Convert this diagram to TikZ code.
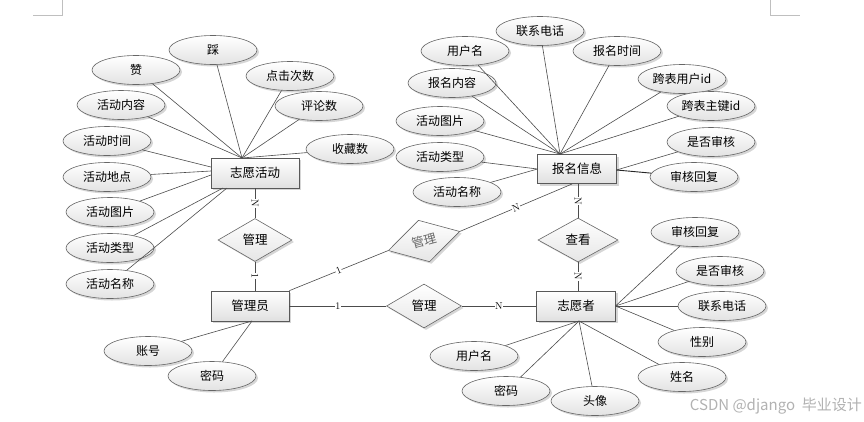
\documentclass[tikz,border=0pt]{standalone}
\usepackage{fontspec}
\newfontfamily\cjk{Noto Sans CJK SC}
\usetikzlibrary{shapes.geometric,shadows,calc}
\begin{document}
\begin{tikzpicture}[x=1pt,y=-1pt,
  shad/.style={drop shadow={shadow xshift=2pt,shadow yshift=-2pt,fill=black!16,opacity=1}},
  attr/.style={ellipse,draw=black!60,line width=0.6pt,top color=white,bottom color=black!11,
    minimum width=88pt,minimum height=29pt,inner sep=0pt,font=\cjk\fontsize{12}{14}\selectfont,shad},
  ent/.style={rectangle,draw=black!65,line width=0.7pt,top color=white,bottom color=black!12,
    minimum width=79pt,minimum height=30pt,inner sep=0pt,font=\cjk\fontsize{12.5}{14}\selectfont,shad},
  rel/.style={diamond,draw=black!60,line width=0.6pt,top color=white,bottom color=black!10,
    minimum width=75pt,minimum height=44pt,inner sep=0pt,font=\cjk\fontsize{12.5}{14}\selectfont,shad},
  conn/.style={draw=black!70,line width=0.6pt},
  card/.style={font=\fontsize{10}{10}\selectfont,fill=white,inner sep=0.5pt,text=black},
  cornermark/.style={draw=black!25,line width=0.8pt}
]
\useasboundingbox (0,0) rectangle (864,421);
\fill[white] (0,0) rectangle (864,421);
% corner marks
\coordinate (m1a) at (33,15); \coordinate (m1b) at (62,15); \coordinate (m1c) at (62,0);
\coordinate (m2a) at (770,0); \coordinate (m2b) at (770,15); \coordinate (m2c) at (800,15);
\draw[cornermark] (m1a) -- (m1b) -- (m1c);
\draw[cornermark] (m2a) -- (m2b) -- (m2c);

% entities
\node[ent,minimum width=88pt] (hd) at (255,173) {志愿活动};
\node[ent,minimum height=29pt] (bm) at (577,169) {报名信息};
\node[ent,minimum width=78pt] (adm) at (250,306) {管理员};
\node[ent] (vol) at (576,306) {志愿者};

% relationships
\node[rel,minimum width=74pt,minimum height=43pt] (d1) at (255,240) {管理};
\node[rel,minimum width=74pt,minimum height=43pt,rotate=15,text=black!60] (d2) at (424,241) {管理};
\node[rel] (d3) at (424,306) {管理};
\node[rel,minimum width=80pt] (d4) at (578,240) {查看};

% attributes of 志愿活动
\node[attr] (a1) at (213,50) {踩};
\node[attr] (a2) at (136,70) {赞};
\node[attr] (a3) at (290,76) {点击次数};
\node[attr] (a4) at (121,105) {活动内容};
\node[attr] (a5) at (319,106) {评论数};
\node[attr] (a6) at (107,141) {活动时间};
\node[attr] (a7) at (350,149) {收藏数};
\node[attr] (a8) at (107,177) {活动地点};
\node[attr] (a9) at (110,212) {活动图片};
\node[attr] (a10) at (110,248) {活动类型};
\node[attr] (a11) at (110,284) {活动名称};

% attributes of 报名信息
\node[attr] (b1) at (540,31) {联系电话};
\node[attr] (b2) at (465,51) {用户名};
\node[attr] (b3) at (617,51) {报名时间};
\node[attr] (b4) at (452,83) {报名内容};
\node[attr] (b5) at (682,79) {跨表用户id};
\node[attr] (b6) at (711,106) {跨表主键id};
\node[attr] (b7) at (440,121) {活动图片};
\node[attr] (b8) at (711,142) {是否审核};
\node[attr] (b9) at (440,157) {活动类型};
\node[attr] (b10) at (694,177) {审核回复};
\node[attr] (b11) at (457,192) {活动名称};

% attributes of 志愿者
\node[attr] (c1) at (695,232) {审核回复};
\node[attr] (c2) at (720,271) {是否审核};
\node[attr] (c3) at (722,306) {联系电话};
\node[attr] (c4) at (702,342) {性别};
\node[attr] (c5) at (682,377) {姓名};
\node[attr] (c6) at (595,401) {头像};
\node[attr] (c7) at (506,391) {密码};
\node[attr] (c8) at (474,356) {用户名};

% attributes of 管理员
\node[attr] (e1) at (148,351) {账号};
\node[attr] (e2) at (212,376) {密码};

% connection points
\coordinate (hdT) at (242,158);
\coordinate (hdL1) at (211,167);
\coordinate (hdL2) at (211,171);
\coordinate (hdL3) at (211,175);
\coordinate (hdB1) at (223,188);
\coordinate (hdB2) at (227,188);
\coordinate (bmT) at (560,154);
\coordinate (bmL) at (537.5,169);
\coordinate (bmR) at (616.5,170);
\coordinate (bmB) at (572,184);
\coordinate (volR) at (615.5,306);
\coordinate (volB) at (579,321);
\coordinate (admB) at (252,321);

\foreach \n in {a1,a2,a3,a4,a5,a7} \draw[conn] (\n) -- (hdT);
\draw[conn] (a6) -- (hdL1);
\draw[conn] (a8) -- (hdL2);
\draw[conn] (a9) -- (hdL3);
\draw[conn] (a10) -- (hdB1);
\draw[conn] (a11) -- (hdB2);

\foreach \n in {b1,b2,b3,b4,b5,b6,b7} \draw[conn] (\n) -- (bmT);
\draw[conn] (b9) -- (bmL);
\draw[conn] (b11) -- (bmL);
\draw[conn] (b8) -- (bmR);
\draw[conn,line width=0.9pt,draw=black!85] (b10) -- (bmR);

\foreach \n in {c1,c2,c3,c4} \draw[conn] (\n) -- (volR);
\foreach \n in {c5,c6,c7,c8} \draw[conn] (\n) -- (volB);

\draw[conn] (e1) -- (admB);
\draw[conn] (e2) -- (admB);

% relationship connectors
\draw[conn] (hd.south) -- node[card,sloped]{N} (d1.north);
\draw[conn] (d1.south) -- node[card,sloped]{1} (d1.south |- adm.north);
\draw[conn] (adm.north east) -- node[card,sloped]{1} (d2.west);
\draw[conn] (d2.east) -- node[card,sloped]{N} (bmB);
\draw[conn] (adm.east) -- node[card]{1} (d3.west);
\draw[conn] (d3.east) -- node[card]{N} (vol.west);
\draw[conn] (d4.north |- bm.south) -- node[card,sloped]{N} (d4.north);
\draw[conn] (d4.south) -- node[card,sloped]{N} (d4.south |- vol.north);

% watermark
\node[font=\cjk\fontsize{15}{17}\selectfont,text=black!30,inner sep=0pt,anchor=east] (wm) at (862,406) {CSDN @django\ \ 毕业设计};
\end{tikzpicture}
\end{document}
